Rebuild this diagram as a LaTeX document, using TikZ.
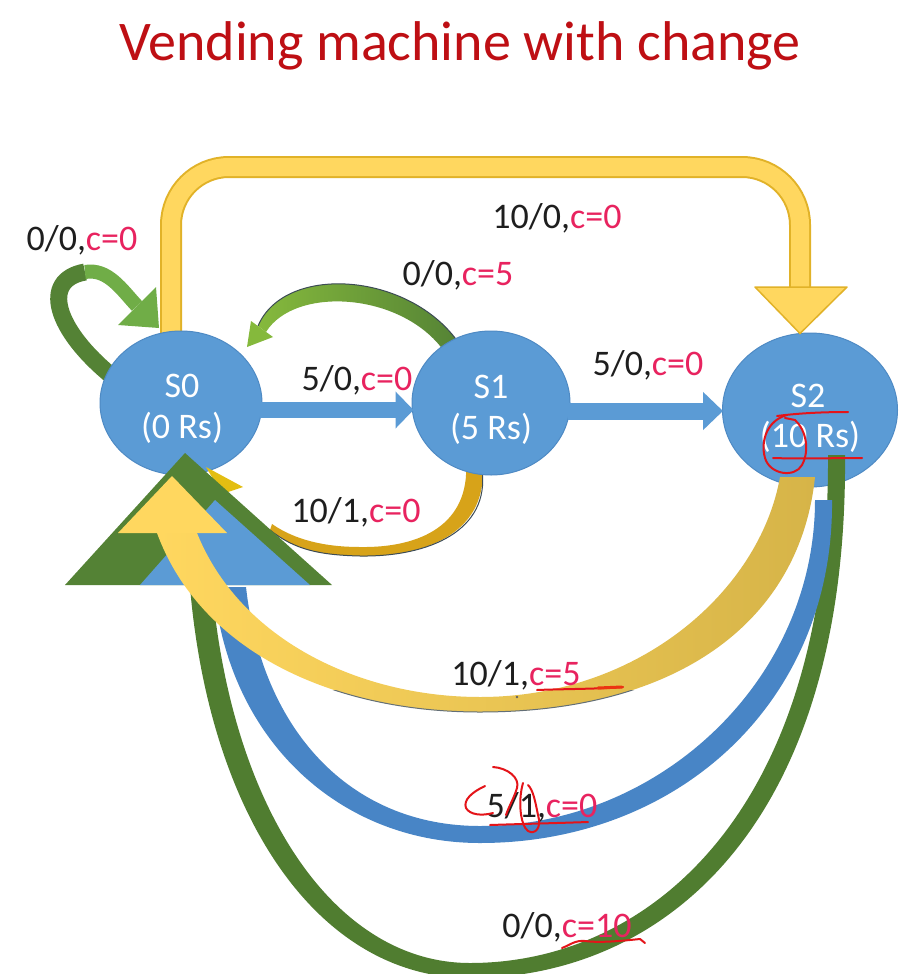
\documentclass[tikz,border=0pt]{standalone}
\usepackage{fontspec}
\setmainfont{Carlito}
\usetikzlibrary{shapes.geometric,calc,arrows.meta}
\definecolor{stateblue}{RGB}{91,155,213}
\definecolor{stateedge}{RGB}{78,138,196}
\definecolor{bband}{RGB}{72,133,198}
\definecolor{btri}{RGB}{91,155,213}
\definecolor{gdark}{RGB}{84,130,53}
\definecolor{glight}{RGB}{112,173,71}
\definecolor{gband}{RGB}{80,125,48}
\definecolor{yfill}{RGB}{255,215,95}
\definecolor{yedge}{RGB}{225,178,40}
\definecolor{ykhaki}{RGB}{214,180,72}
\definecolor{goldc}{RGB}{215,163,25}
\definecolor{cpink}{RGB}{232,35,95}
\definecolor{txtdark}{RGB}{30,30,30}
\definecolor{titlered}{RGB}{190,15,20}
\definecolor{pen}{RGB}{228,20,25}
\definecolor{edgeline}{RGB}{60,75,85}
\newcommand{\mylab}[2]{#1\textcolor{cpink}{#2}}
\tikzset{
  state/.style={ellipse, fill=stateblue, draw=stateedge, line width=1pt, inner sep=0pt},
  stxt/.style={text=white, font=\fontsize{36}{41}\selectfont, anchor=base, inner sep=0pt},
  lbl/.style={text=txtdark, font=\fontsize{36}{41}\selectfont, anchor=base, inner sep=0pt},
  redmark/.style={draw=pen, line width=2pt, line cap=round, line join=round},
}
\begin{document}
\begin{tikzpicture}[x=1pt,y=-1pt]
\useasboundingbox[fill=white] (0,0) rectangle (916,974);

% title
\node[font=\fontsize{56}{60}\selectfont, text=titlered, anchor=base, inner sep=0pt] (title) at (460,60) {Vending machine with change};

% state centres
\path (181,403) coordinate (c0) (491,403) coordinate (c1) (810,410) coordinate (c2);

% yellow 10/0 band S0 -> S2 (over the top)
\coordinate (ytl) at (171,167);
\coordinate (ytr) at (800,167);
\draw[yedge, line width=22pt, rounded corners=58pt] ($(c0)+(-10,-62)$) -- (ytl) -- (ytr) -- (800,292);
\draw[yfill, line width=18pt, rounded corners=58pt] ($(c0)+(-10,-62)$) -- (ytl) -- (ytr) -- (800,292);

% green self loop on S0
\draw[gdark, line width=17pt] ($(c0)+(-68,-26)$) .. controls (55,330) and (40,280) .. (85,272);
\draw[glight, line width=14pt] (85,272) .. controls (108,268) and (122,290) .. (137,306);
\fill[glight] (156,287) -- (118,325) -- (159,328) -- cycle;

% green S1 -> S0 arc (0/0,c=5)
\shade[left color=glight!85!yellow, right color=gdark] (462,348) .. controls (415,272) and (285,262) .. (258,326) -- (266,332) .. controls (295,285) and (405,292) .. (446,354) -- cycle;
\draw[edgeline, line width=1pt] (462,348) .. controls (415,272) and (285,262) .. (258,326);
\fill[glight!85!yellow] (273,337) -- (251,321) -- (247,347) -- cycle;

% golden S1 -> S0 arc (10/1,c=0)
\fill[goldc] (482,462) .. controls (490,530) and (430,557) .. (360,556) .. controls (320,555) and (295,550) .. (270,530) -- (272,524) .. controls (295,540) and (325,547) .. (360,547) .. controls (420,548) and (470,525) .. (466,462) -- cycle;
\draw[edgeline, line width=1pt] (482,470) .. controls (490,530) and (430,557) .. (360,556) .. controls (320,555) and (295,550) .. (270,530);

% states
\node[state, minimum width=162pt, minimum height=144pt] (S0) at (c0) {};
\node[state, minimum width=158pt, minimum height=144pt] (S1) at (c1) {};
\node[state, minimum width=175pt, minimum height=154pt] (S2) at (c2) {};
\node[stxt] (S0a) at ($(S0.center)+(1,-6)$) {S0};
\node[stxt] (S0b) at ($(S0.center)+(1,35)$) {(0 Rs)};
\node[stxt] (S1a) at ($(S1.center)+(0,-5)$) {S1};
\node[stxt] (S1b) at ($(S1.center)+(0,36)$) {(5 Rs)};
\node[stxt] (S2a) at ($(S2.center)+(-2,-3)$) {S2};
\node[stxt] (S2b) at ($(S2.center)+(0,37)$) {(10 Rs)};

% yellow arrow head onto S2
\filldraw[fill=yfill, draw=yedge, line width=1.5pt, line join=round] (755,287) -- (847,287) -- ($(S2.north)+(-10,1)$) -- cycle;

% straight blue arrows
\draw[stateblue, line width=16pt, -{Triangle[length=18pt,width=36pt]}] ($(S0.east)+(-3,7)$) -- ($(S1.west)+(2,7)$);
\draw[stateblue, line width=17pt, -{Triangle[length=20pt,width=37pt]}] ($(S1.east)+(-3,8)$) -- ($(S2.west)+(1,1)$);

% small golden head, mostly hidden behind the green head
\fill[goldc!70!yellow] (206,467) -- (243,487) -- (222,494) -- cycle;

% green big band S2 -> S0 (0/0,c=10)
\fill[gband] (190,587) .. controls (210,820) and (320,978) .. (470,978) .. controls (660,978) and (848,830) .. (845,455) -- (828,455) .. controls (830,810) and (650,963) .. (470,963) .. controls (335,963) and (232,810) .. (212,587) -- cycle;
\fill[gdark] (65,585) -- (332,585) -- (185,453) -- cycle;

% blue big band S2 -> S0 (5/1,c=0)
\fill[bband] (214,587) .. controls (228,740) and (340,843) .. (480,843) .. controls (680,843) and (834,700) .. (832,500) -- (815,500) .. controls (815,680) and (660,826) .. (480,826) .. controls (350,826) and (262,730) .. (246,587) -- cycle;
\fill[btri] (140,585) -- (310,585) -- (215,500) -- cycle;

% yellow big band S2 -> S0 (10/1,c=5)
\shade[left color=yfill, right color=ykhaki] (157,533) .. controls (200,650) and (330,712) .. (480,712) .. controls (680,712) and (800,620) .. (815,477) -- (780,477) .. controls (760,590) and (640,697) .. (480,697) .. controls (360,697) and (240,640) .. (197,533) -- cycle;
\begin{scope}
  \clip (330,690) rectangle (640,730);
  \draw[edgeline!80, line width=1pt] (157,533) .. controls (200,650) and (330,712) .. (480,712) .. controls (680,712) and (800,620) .. (815,477);
\end{scope}
\fill[yfill] (118,533) -- (227,533) -- (172,476) -- cycle;

% labels
\node[lbl] (L1) at (82,250) {\mylab{0/0,}{c=0}};
\node[lbl] (L2) at (557,228) {\mylab{10/0,}{c=0}};
\node[lbl] (L3) at (458,285) {\mylab{0/0,}{c=5}};
\node[lbl] (L4) at (357,390) {\mylab{5/0,}{c=0}};
\node[lbl] (L5) at (648,375) {\mylab{5/0,}{c=0}};
\node[lbl] (L6) at (356,522) {\mylab{10/1,}{c=0}};
\node[lbl] (L7) at (516,685) {\mylab{10/1,}{c=5}};
\node[lbl] (L8) at (542,817) {\mylab{5/1,}{c=0}};
\node[lbl] (L9) at (567,937) {\mylab{0/0,}{c=10}};
\fill[txtdark!70] (517,697) circle (1.3pt);

% hand-drawn red marks
\draw[redmark] (787,415) .. controls (768,420) and (760,440) .. (765,458) .. controls (770,475) and (795,478) .. (802,465) .. controls (810,450) and (806,430) .. (795,420) -- (785,418);
\draw[redmark] (777,416) .. controls (800,413) and (825,412) .. (848,412);
\draw[redmark] (773,458) .. controls (800,459) and (835,458) .. (862,458);
\draw[redmark] (537,690) .. controls (560,689) and (600,689) .. (623,687);
\draw[draw=pen!70!orange, line width=3pt, line cap=round] (598,688) -- (622,687);
\draw[redmark] (490,825) .. controls (520,824) and (560,823) .. (588,822);
\draw[redmark] (485,786) .. controls (472,792) and (463,800) .. (466,808) .. controls (470,815) and (482,816) .. (493,813);
\draw[redmark] (493,767) .. controls (508,768) and (520,778) .. (517,788) .. controls (514,798) and (509,806) .. (506,815);
\draw[redmark] (523,783) .. controls (518,800) and (520,825) .. (528,831) .. controls (535,835) and (542,828) .. (538,815) .. controls (535,800) and (533,790) .. (528,785);
\draw[redmark] (562,948) .. controls (570,945) and (575,940) .. (585,941) .. controls (600,943) and (620,941) .. (640,939) -- (645,943);
\end{tikzpicture}
\end{document}
